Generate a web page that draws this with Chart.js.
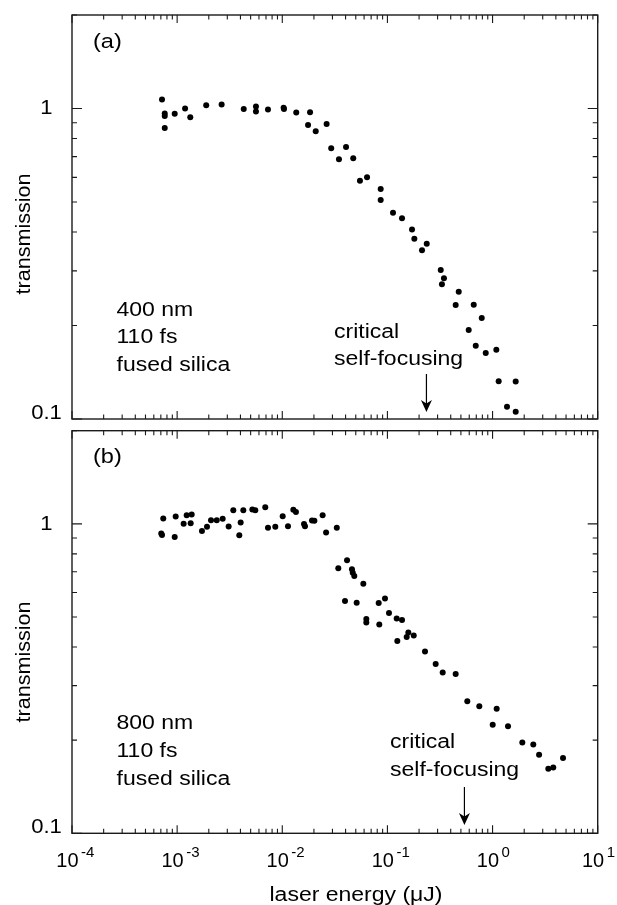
<!DOCTYPE html>
<html>
<head>
<meta charset="utf-8">
<script src="https://cdn.jsdelivr.net/npm/chart.js@4/dist/chart.umd.min.js"></script>
<style>
  html, body { margin: 0; padding: 0; background: #fff; }
  #wrap { position: relative; width: 617px; height: 905px; overflow: hidden; }
  canvas { position: absolute; left: 0; }
</style>
</head>
<body>
<div id="wrap">
  <canvas id="cA" style="top:0px" width="617" height="425"></canvas>
  <canvas id="cB" style="top:425px" width="617" height="480"></canvas>
</div>
<script>
// ---------- DATA ----------
// panel (a): 400 nm, 110 fs, fused silica
const energyA = [7.18e-4, 7.62e-4, 7.62e-4, 7.62e-4, 9.48e-4, 1.19e-3, 1.333e-3, 1.89e-3, 2.65e-3, 4.30e-3,
  5.62e-3, 5.62e-3, 7.31e-3, 1.038e-2, 1.03e-2, 1.358e-2, 1.837e-2, 1.758e-2, 2.08e-2, 2.64e-2,
  2.92e-2, 4.04e-2, 3.46e-2, 4.73e-2, 5.48e-2, 6.40e-2, 8.63e-2, 8.63e-2, 0.113, 0.1377,
  0.1714, 0.1803, 0.2366, 0.2133, 0.3214, 0.345, 0.330, 0.4766, 0.4457, 0.662,
  0.789, 0.593, 0.692, 0.861, 1.086, 1.143, 1.66, 1.372, 1.66];
const transA = [1.069, 0.9635, 0.946, 0.866, 0.961, 1.0, 0.937, 1.025, 1.030, 0.997,
  1.015, 0.978, 0.993, 0.997, 1.005, 0.971, 0.973, 0.885, 0.845, 0.892,
  0.744, 0.751, 0.686, 0.691, 0.585, 0.600, 0.550, 0.507, 0.4616, 0.443,
  0.4076, 0.3804, 0.3665, 0.3495, 0.302, 0.2838, 0.2714, 0.257, 0.2329, 0.2334,
  0.2114, 0.1934, 0.172, 0.163, 0.167, 0.1323, 0.132, 0.1096, 0.1056];

// panel (b): 800 nm, 110 fs, fused silica
const energyB = [7.06e-4, 7.18e-4, 7.38e-4, 9.48e-4, 9.69e-4, 1.153e-3, 1.233e-3, 1.375e-3, 1.345e-3, 1.722e-3,
  1.923e-3, 2.10e-3, 2.38e-3, 2.71e-3, 3.09e-3, 3.42e-3, 3.90e-3, 4.02e-3, 4.26e-3, 5.19e-3,
  5.54e-3, 6.89e-3, 7.31e-3, 8.58e-3, 1.009e-2, 1.133e-2, 1.274e-2, 1.349e-2, 1.61e-2, 1.644e-2,
  1.918e-2, 2.02e-2, 2.42e-2, 2.61e-2, 3.30e-2, 4.13e-2, 3.41e-2, 4.60e-2, 4.68e-2, 4.84e-2,
  5.90e-2, 3.95e-2, 5.10e-2, 8.26e-2, 9.48e-2, 0.1035, 6.30e-2, 6.30e-2, 8.37e-2, 0.1225,
  0.1377, 0.1581, 0.1779, 0.1525, 0.1242, 0.2277, 0.2877, 0.3356, 0.4457, 0.575,
  0.748, 1.094, 1.003, 1.403, 1.919, 2.44, 2.77, 3.39, 3.78, 4.68];
const transB = [0.931, 0.921, 1.041, 0.906, 1.056, 1.0, 1.067, 1.072, 1.005, 0.949,
  0.978, 1.028, 1.028, 1.038, 0.981, 1.107, 0.919, 1.01, 1.107, 1.113,
  1.107, 1.132, 0.971, 0.978, 1.059, 0.983, 1.110, 1.093, 0.998, 0.983,
  1.026, 1.023, 1.067, 0.938, 0.971, 0.763, 0.718, 0.714, 0.695, 0.679,
  0.640, 0.5629, 0.5558, 0.5546, 0.574, 0.5147, 0.4922, 0.480, 0.4732, 0.4948,
  0.4887, 0.4458, 0.436, 0.4305, 0.418, 0.387, 0.3522, 0.3311, 0.3270, 0.2669,
  0.2572, 0.2526, 0.2243, 0.2216, 0.1967, 0.1938, 0.1794, 0.1617, 0.1633, 0.175];

// axis ranges and tick labels
const xMin = 1e-4, xMax = 1e1;
const yMin = 0.1, yMax = 2;
const xDecades = [-4, -3, -2, -1, 0, 1];
const yLabels = [{v: 1, t: '1'}, {v: 0.1, t: '0.1'}];
const yTitle = 'transmission';
const xTitle = 'laser energy (\u03BCJ)';
const notesA = ['400 nm', '110 fs', 'fused silica'];
const notesB = ['800 nm', '110 fs', 'fused silica'];
const critical = ['critical', 'self-focusing'];
const arrowA = 0.235;   // energy of critical self-focusing arrow, panel a
const arrowB = 0.54;    // panel b

// ---------- helpers ----------
const FONT = '"Liberation Sans", Arial, Helvetica, sans-serif';
const SX = 1.15;   // horizontal stretch of text
function txt(ctx, s, x, y, size, align, base, sx, rot) {
  ctx.save();
  ctx.translate(x, y);
  if (rot) ctx.rotate(rot);
  ctx.scale(sx == null ? SX : sx, 1);
  ctx.font = size + 'px ' + FONT;
  ctx.fillStyle = '#000';
  ctx.textAlign = align || 'left';
  ctx.textBaseline = base || 'middle';
  ctx.fillText(s, 0, 0);
  ctx.restore();
}

function pts(xs, ys) { return xs.map((x, i) => ({x: x, y: ys[i]})); }

function framePlugin(opts) {
  return {
    id: 'frame' + opts.id,
    afterDatasetsDraw(chart) {
      const ctx = chart.ctx;
      const a = chart.chartArea;
      const xs = chart.scales.x, ys = chart.scales.y;
      ctx.save();
      ctx.strokeStyle = '#1a1a1a';
      ctx.lineWidth = 1.4;
      ctx.strokeRect(a.left, a.top, a.right - a.left, a.bottom - a.top);
      ctx.lineWidth = 1.1;
      ctx.beginPath();
      // x ticks (top & bottom, inward)
      for (let d = -4; d <= 1; d++) {
        for (let m = 1; m <= 9; m++) {
          const v = m * Math.pow(10, d);
          if (v < xMin * 0.999 || v > xMax * 1.001) continue;
          const px = xs.getPixelForValue(v);
          const len = (m === 1) ? 8 : 4.5;
          ctx.moveTo(px, a.bottom); ctx.lineTo(px, a.bottom - len);
          ctx.moveTo(px, a.top); ctx.lineTo(px, a.top + len);
        }
      }
      // y ticks (left & right, inward)
      for (let d = -1; d <= 0; d++) {
        for (let m = 1; m <= 9; m++) {
          const v = m * Math.pow(10, d);
          if (v < yMin * 0.999 || v > yMax * 1.001) continue;
          const py = ys.getPixelForValue(v);
          const len = (m === 1) ? 10 : 5;
          ctx.moveTo(a.left, py); ctx.lineTo(a.left + len, py);
          ctx.moveTo(a.right, py); ctx.lineTo(a.right - len, py);
        }
      }
      ctx.stroke();
      ctx.restore();

      // y tick labels
      yLabels.forEach(l => {
        const py = ys.getPixelForValue(l.v) - (l.v === yMin ? 6 : 0);
        txt(ctx, l.t, 46.5, py, 21, 'center', 'middle', 1.05);
      });
      // y title
      txt(ctx, yTitle, 24, opts.yTitleY, 20.5, 'center', 'middle', 1.05, -Math.PI / 2);
      // panel letter
      txt(ctx, opts.letter, 93, opts.letterY, 20.5, 'left', 'middle');
      // notes
      opts.notes.forEach((s, i) => txt(ctx, s, 116.5, opts.notesY + i * opts.notesDY, 20, 'left', 'middle'));
      // critical self-focusing
      critical.forEach((s, i) => txt(ctx, s, opts.critX, opts.critY + i * 27.5, 20, 'left', 'middle'));
      // arrow
      const ax = xs.getPixelForValue(opts.arrow);
      ctx.save();
      ctx.strokeStyle = '#000'; ctx.fillStyle = '#000'; ctx.lineWidth = 1.2;
      ctx.beginPath(); ctx.moveTo(ax, opts.arrowY0); ctx.lineTo(ax, opts.arrowY1 - 8); ctx.stroke();
      ctx.beginPath(); ctx.moveTo(ax - 5.5, opts.arrowY1 - 12); ctx.lineTo(ax, opts.arrowY1 - 8.5);
      ctx.lineTo(ax + 5.5, opts.arrowY1 - 12); ctx.lineTo(ax, opts.arrowY1); ctx.closePath(); ctx.fill();
      ctx.restore();

      // x tick labels / title
      if (opts.xLabels) {
        xDecades.forEach(d => {
          const px = xs.getPixelForValue(Math.pow(10, d));
          txt(ctx, '10', px + 6.5, opts.xLabelBase, 21, 'right', 'alphabetic', 0.95);
          txt(ctx, d < 0 ? '-' + (-d) : String(d), px + 9, opts.xLabelBase - 10, 15, 'left', 'alphabetic', 1);
        });
        txt(ctx, xTitle, 356, opts.xTitleBase, 20, 'center', 'alphabetic');
      }
    }
  };
}

function makeChart(id, data, pad, opts) {
  return new Chart(document.getElementById(id), {
    type: 'scatter',
    data: { datasets: [{ data: data, backgroundColor: '#000', borderWidth: 0, pointRadius: 3, pointHoverRadius: 3 }] },
    options: {
      responsive: false, animation: false, devicePixelRatio: 1,
      layout: { padding: pad },
      plugins: { legend: { display: false }, tooltip: { enabled: false } },
      scales: {
        x: { type: 'logarithmic', min: xMin, max: xMax, display: false },
        y: { type: 'logarithmic', min: yMin, max: yMax, display: false }
      }
    },
    plugins: [framePlugin(opts)]
  });
}

makeChart('cA', pts(energyA, transA), { left: 72, right: 19.3, top: 15, bottom: 6 }, {
  id: 'A', letter: '(a)', letterY: 42, yTitleY: 234, notes: notesA, notesY: 310, notesDY: 27.5,
  critX: 334, critY: 332, arrow: arrowA, arrowY0: 374, arrowY1: 412, xLabels: false
});
makeChart('cB', pts(energyB, transB), { left: 72, right: 19.3, top: 5.7, bottom: 71.7 }, {
  id: 'B', letter: '(b)', letterY: 32, yTitleY: 237, notes: notesB, notesY: 298, notesDY: 28,
  critX: 390, critY: 317.5, arrow: arrowB, arrowY0: 362, arrowY1: 400, xLabels: true,
  xLabelBase: 441.5, xTitleBase: 476
});
</script>
</body>
</html>
